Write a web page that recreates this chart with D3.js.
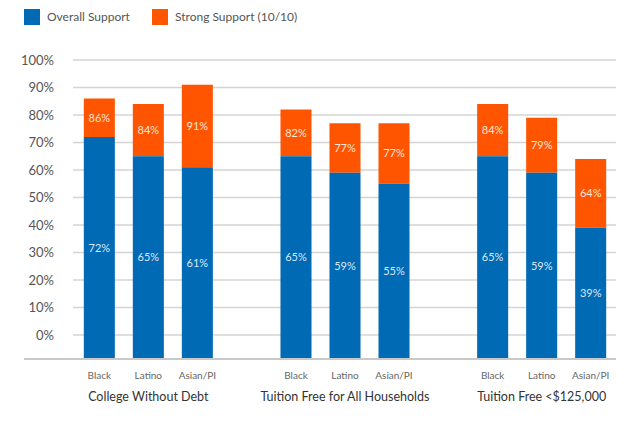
<!DOCTYPE html>
<html>
<head>
<meta charset="utf-8">
<script src="https://cdn.jsdelivr.net/npm/d3@7"></script>
<style>
  body { margin: 0; background: #fff; }
  text { font-family: Lato, "Open Sans", sans-serif; }
</style>
</head>
<body>
<svg id="chart" width="636" height="424"></svg>
<script>
// data
const groups = ['College Without Debt', 'Tuition Free for All Households', 'Tuition Free <$125,000'];
const races = ['Black', 'Latino', 'Asian/PI'];
const overall = [72, 65, 61, 65, 59, 55, 65, 59, 39];
const strong = [86, 84, 91, 82, 77, 77, 84, 79, 64];
const yTicks = [0, 10, 20, 30, 40, 50, 60, 70, 80, 90, 100];

const blue = '#006ab4';
const orange = '#ff5500';

const svg = d3.select('#chart');

// y scale, bars hang down past the 0% line to the base line
const y = d3.scaleLinear().domain([0, 100]).range([335, 60]);
const baseY = y(0) + 24;

// nested band scales for groups and races
const x0 = d3.scaleBand().domain(groups).range([50, 640]).paddingInner(0).paddingOuter(0);
const x1 = d3.scaleBand().domain(races).range([0, x0.bandwidth()]).paddingInner(0.367).paddingOuter(0.69);

// gridlines
svg.append('g')
  .selectAll('line')
  .data(yTicks)
  .join('line')
  .attr('x1', 73)
  .attr('x2', 616)
  .attr('y1', d => y(d))
  .attr('y2', d => y(d))
  .attr('stroke', '#d4d4d4')
  .attr('stroke-width', 1.5);

// y tick labels
svg.append('g')
  .selectAll('text')
  .data(yTicks)
  .join('text')
  .attr('x', 54)
  .attr('y', d => y(d))
  .attr('dy', '0.35em')
  .attr('text-anchor', 'end')
  .attr('font-size', 13)
  .attr('fill', '#555')
  .text(d => d + '%');

// flatten to rows
let rows = [];
groups.forEach(function(g, gi) {
  races.forEach(function(r, ri) {
    let i = gi * races.length + ri;
    rows.push({group: g, race: r, overall: overall[i], strong: strong[i]});
  });
});

const bx = d => x0(d.group) + x1(d.race);

// orange (strong) bars
svg.append('g')
  .selectAll('rect')
  .data(rows)
  .join('rect')
  .attr('x', bx)
  .attr('width', x1.bandwidth())
  .attr('y', d => y(d.strong))
  .attr('height', d => y(d.overall) - y(d.strong))
  .attr('fill', orange);

// blue (overall) bars
svg.append('g')
  .selectAll('rect')
  .data(rows)
  .join('rect')
  .attr('x', bx)
  .attr('width', x1.bandwidth())
  .attr('y', d => y(d.overall))
  .attr('height', d => baseY - y(d.overall))
  .attr('fill', blue);

// base line
svg.append('line')
  .attr('x1', 24)
  .attr('x2', 616)
  .attr('y1', baseY)
  .attr('y2', baseY)
  .attr('stroke', '#c8c8c8')
  .attr('stroke-width', 2);

// value labels inside bars
svg.append('g')
  .selectAll('text')
  .data(rows)
  .join('text')
  .attr('x', d => bx(d) + x1.bandwidth() / 2)
  .attr('y', d => (y(d.strong) + y(d.overall)) / 2)
  .attr('dy', '0.35em')
  .attr('text-anchor', 'middle')
  .attr('font-size', 11)
  .attr('fill', '#fde6da')
  .text(d => d.strong + '%');

svg.append('g')
  .selectAll('text')
  .data(rows)
  .join('text')
  .attr('x', d => bx(d) + x1.bandwidth() / 2)
  .attr('y', d => (y(d.overall) + baseY) / 2)
  .attr('dy', '0.35em')
  .attr('text-anchor', 'middle')
  .attr('font-size', 11)
  .attr('fill', '#dbe8f6')
  .text(d => d.overall + '%');

// race labels
svg.append('g')
  .selectAll('text')
  .data(rows)
  .join('text')
  .attr('x', d => bx(d) + x1.bandwidth() / 2)
  .attr('y', 375)
  .attr('dy', '0.35em')
  .attr('text-anchor', 'middle')
  .attr('font-size', 10)
  .attr('fill', '#666')
  .text(d => d.race);

// group labels
svg.append('g')
  .selectAll('text')
  .data(groups)
  .join('text')
  .attr('x', d => x0(d) + x1('Latino') + x1.bandwidth() / 2)
  .attr('y', 397)
  .attr('dy', '0.35em')
  .attr('text-anchor', 'middle')
  .attr('font-size', 12.5)
  .attr('fill', '#333')
  .text(d => d);

// legend
const legend = [{label: 'Overall Support', color: blue, x: 24}, {label: 'Strong Support (10/10)', color: orange, x: 152}];
const lg = svg.append('g')
  .selectAll('g')
  .data(legend)
  .join('g')
  .attr('transform', d => 'translate(' + d.x + ',9)');
lg.append('rect')
  .attr('width', 16)
  .attr('height', 16)
  .attr('fill', d => d.color);
lg.append('text')
  .attr('x', 23)
  .attr('y', 8)
  .attr('dy', '0.35em')
  .attr('font-size', 12)
  .attr('fill', '#555')
  .text(d => d.label);
</script>
</body>
</html>
